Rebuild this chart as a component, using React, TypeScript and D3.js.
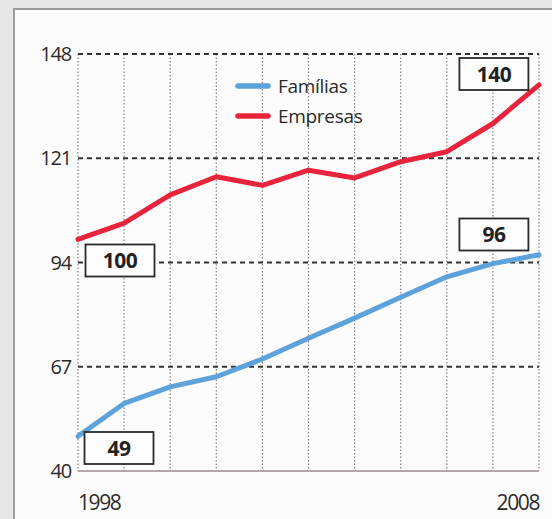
import React, { useEffect, useRef } from 'react';
import * as d3 from 'd3';

// Values (index base, 1998-2008)
const years = [1998, 1999, 2000, 2001, 2002, 2003, 2004, 2005, 2006, 2007, 2008];
const familias = [49, 57.5, 61.8, 64.4, 69, 74.4, 79.6, 85, 90.3, 93.7, 96];
const empresas = [100, 104.2, 111.5, 116.2, 114, 117.9, 115.9, 120.1, 122.7, 130, 140];
const yTicks = [40, 67, 94, 121, 148];
const xTickLabels = [1998, 2008];
const seriesNames = ['Famílias', 'Empresas'];

const App: React.FC = () => {
  const svgRef = useRef<SVGSVGElement>(null);

  useEffect(() => {
    if (!svgRef.current) return;
    const width = 552;
    const height = 519;
    const margin = { top: 54, right: 13, bottom: 48, left: 78 };

    const svg = d3.select(svgRef.current).attr('width', width).attr('height', height);
    svg.selectAll('*').remove();

    const font = "'Open Sans', 'DejaVu Sans', sans-serif";

    // background + panel
    svg.append('rect').attr('width', width).attr('height', height).attr('fill', '#e6e6e6');
    svg
      .append('rect')
      .attr('x', 14)
      .attr('y', 9)
      .attr('width', width)
      .attr('height', height)
      .attr('fill', '#fcfcfc')
      .attr('stroke', '#9c9c9c')
      .attr('stroke-width', 2);

    const x = d3
      .scaleLinear()
      .domain([1998, 2008])
      .range([margin.left, width - margin.right]);
    const y = d3
      .scaleLinear()
      .domain([40, 148])
      .range([height - margin.bottom, margin.top]);

    // vertical dotted grid
    svg
      .append('g')
      .selectAll('line')
      .data(years)
      .enter()
      .append('line')
      .attr('x1', (d) => x(d))
      .attr('x2', (d) => x(d))
      .attr('y1', y(148))
      .attr('y2', y(40))
      .attr('stroke', '#8a8080')
      .attr('stroke-width', 1.2)
      .attr('stroke-dasharray', '1.5,2');

    // horizontal dashed grid
    svg
      .append('g')
      .selectAll('line')
      .data(yTicks.filter((d) => d > 40))
      .enter()
      .append('line')
      .attr('x1', x(1998))
      .attr('x2', x(2008))
      .attr('y1', (d) => y(d))
      .attr('y2', (d) => y(d))
      .attr('stroke', '#333')
      .attr('stroke-width', 2)
      .attr('stroke-dasharray', '5,4');

    // base line
    svg
      .append('line')
      .attr('x1', x(1998))
      .attr('x2', x(2008))
      .attr('y1', y(40))
      .attr('y2', y(40))
      .attr('stroke', '#9a8c8c')
      .attr('stroke-width', 1.5);

    // y tick labels
    svg
      .append('g')
      .selectAll('text')
      .data(yTicks)
      .enter()
      .append('text')
      .attr('x', x(1998) - 7)
      .attr('y', (d) => y(d))
      .attr('dy', '0.36em')
      .attr('text-anchor', 'end')
      .attr('font-family', font)
      .attr('font-size', 20)
      .attr('letter-spacing', -1.2)
      .attr('fill', '#2a2a2a')
      .text((d) => d);

    // x tick labels
    svg
      .append('g')
      .selectAll('text')
      .data(xTickLabels)
      .enter()
      .append('text')
      .attr('x', (d) => x(d))
      .attr('y', height - 9)
      .attr('text-anchor', (d, i) => (i === 0 ? 'start' : 'end'))
      .attr('font-family', font)
      .attr('font-size', 21)
      .attr('letter-spacing', -1.4)
      .attr('fill', '#2a2a2a')
      .text((d) => d);

    const colors = ['#5ea2dc', '#e8243c'];
    const series = [familias, empresas];
    const line = d3
      .line<number>()
      .x((d, i) => x(years[i]))
      .y((d) => y(d));

    series.forEach((s, i) => {
      svg
        .append('path')
        .attr('d', line(s))
        .attr('fill', 'none')
        .attr('stroke', colors[i])
        .attr('stroke-width', 5)
        .attr('stroke-linejoin', 'round')
        .attr('stroke-linecap', 'round');
    });

    // legend
    const legend = svg.append('g');
    seriesNames.forEach((name, i) => {
      const ly = 86 + i * 30;
      legend
        .append('line')
        .attr('x1', 238)
        .attr('x2', 268)
        .attr('y1', ly)
        .attr('y2', ly)
        .attr('stroke', colors[i])
        .attr('stroke-width', 5.5)
        .attr('stroke-linecap', 'round');
      legend
        .append('text')
        .attr('x', 278)
        .attr('y', ly)
        .attr('dy', '0.36em')
        .attr('font-family', font)
        .attr('font-size', 19)
        .attr('letter-spacing', -0.3)
        .attr('fill', '#2a2a2a')
        .text(name);
    });

    // value boxes
    const boxes = [
      { label: `${empresas[0]}`, cx: x(years[0]) + 42, cy: y(94) - 2 },
      { label: `${familias[0]}`, cx: x(years[0]) + 41, cy: y(40) - 23 },
      { label: `${empresas[empresas.length - 1]}`, cx: x(years[9]) + 1, cy: y(148) + 20 },
      { label: `${familias[familias.length - 1]}`, cx: x(years[9]) + 1, cy: y(94) - 28 },
    ];
    const bw = 69;
    const bh = 32;
    const bg = svg.append('g');
    boxes.forEach((b) => {
      bg.append('rect')
        .attr('x', b.cx - bw / 2)
        .attr('y', b.cy - bh / 2)
        .attr('width', bw)
        .attr('height', bh)
        .attr('fill', '#fdfdfd')
        .attr('stroke', '#2a2a2a')
        .attr('stroke-width', 1.8);
      bg.append('text')
        .attr('x', b.cx)
        .attr('y', b.cy)
        .attr('dy', '0.36em')
        .attr('text-anchor', 'middle')
        .attr('font-family', font)
        .attr('font-weight', 'bold')
        .attr('font-size', 21)
        .attr('letter-spacing', -0.5)
        .attr('fill', '#222')
        .text(b.label);
    });
  }, []);

  return (
    <div style={{ position: 'absolute', left: 0, top: 0 }}>
      <svg ref={svgRef} style={{ display: 'block' }} />
    </div>
  );
};

export default App;
